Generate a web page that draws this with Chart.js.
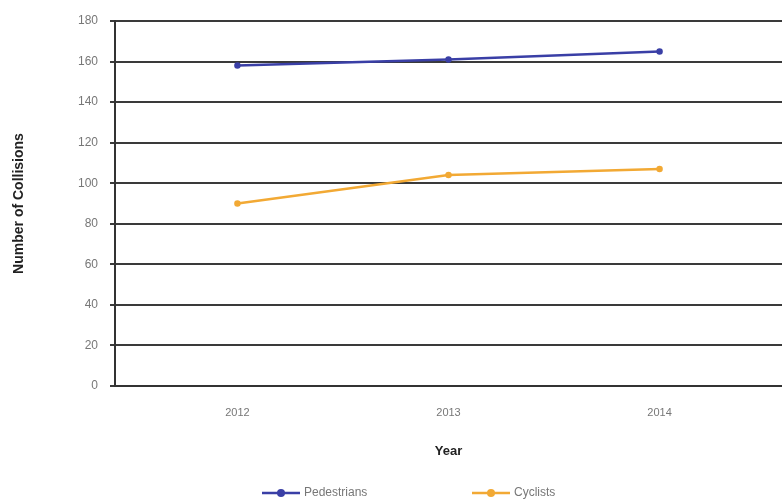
<!DOCTYPE html>
<html>
<head>
<meta charset="utf-8">
<script src="https://cdn.jsdelivr.net/npm/chart.js@4.4.1/dist/chart.umd.min.js"></script>
<style>
  html, body { margin: 0; padding: 0; background: #ffffff; }
  #wrap { width: 782px; height: 500px; position: relative; }
</style>
</head>
<body>
<div id="wrap"><canvas id="chart" width="782" height="500"></canvas></div>
<script>
// Collisions per year by road-user type
const years = [2012, 2013, 2014];
const yearLabels = ['2012', '2013', '2014'];
const pedestrians = [158, 161, 165];
const cyclists = [90, 104, 107];
const seriesNames = ['Pedestrians', 'Cyclists'];
const yTicks = [0, 20, 40, 60, 80, 100, 120, 140, 160, 180];

const BLUE = '#3a3fa6';
const ORANGE = '#f2a934';

const toPoints = vals => years.map((x, i) => ({ x: x, y: vals[i] }));

// Legend drawn below the axis title: short line with a marker, then the label
const bottomLegend = {
  id: 'bottomLegend',
  afterDraw(chart) {
    const ctx = chart.ctx;
    const y = 493;
    const items = [
      { ds: chart.data.datasets[0], x: 262 },
      { ds: chart.data.datasets[1], x: 472 }
    ];
    ctx.save();
    items.forEach(({ ds, x }) => {
      ctx.strokeStyle = ds.borderColor;
      ctx.lineWidth = 2.5;
      ctx.beginPath();
      ctx.moveTo(x, y);
      ctx.lineTo(x + 38, y);
      ctx.stroke();
      ctx.fillStyle = ds.borderColor;
      ctx.beginPath();
      ctx.arc(x + 19, y, 4, 0, Math.PI * 2);
      ctx.fill();
      ctx.fillStyle = '#777';
      ctx.font = '12px "Liberation Sans", Arial, sans-serif';
      ctx.textBaseline = 'middle';
      ctx.fillText(ds.label, x + 42, y);
    });
    ctx.restore();
  }
};

new Chart(document.getElementById('chart'), {
  type: 'line',
  data: {
    datasets: [
      {
        label: seriesNames[0],
        data: toPoints(pedestrians),
        borderColor: BLUE,
        backgroundColor: BLUE,
        borderWidth: 2.5,
        pointRadius: 2,
        pointHoverRadius: 2,
        tension: 0
      },
      {
        label: seriesNames[1],
        data: toPoints(cyclists),
        borderColor: ORANGE,
        backgroundColor: ORANGE,
        borderWidth: 2.5,
        pointRadius: 2,
        pointHoverRadius: 2,
        tension: 0
      }
    ]
  },
  options: {
    responsive: false,
    animation: false,
    events: [],
    layout: { autoPadding: false, padding: { top: 21, right: 0, bottom: 30, left: 0 } },
    plugins: {
      legend: { display: false },
      tooltip: { enabled: false }
    },
    scales: {
      x: {
        type: 'linear',
        min: 2011.42,
        max: 2014.58,
        afterBuildTicks: s => { s.ticks = years.map(v => ({ value: v })); },
        afterFit: s => { s.height = 84; },
        grid: { display: false, drawTicks: false },
        border: { display: true, color: '#333', width: 2 },
        ticks: {
          padding: 20,
          color: '#777',
          font: { size: 11, family: '"Liberation Sans", Arial, sans-serif' },
          callback: v => yearLabels[years.indexOf(v)] || ''
        },
        title: {
          display: true,
          text: 'Year',
          color: '#222',
          font: { size: 13, weight: 'bold', family: '"Liberation Sans", Arial, sans-serif' },
          padding: { top: 15, bottom: 11 }
        }
      },
      y: {
        min: 0,
        max: 180,
        afterBuildTicks: s => { s.ticks = yTicks.map(v => ({ value: v })); },
        afterFit: s => { s.width = 115; },
        grid: {
          color: '#3a3a3a',
          lineWidth: 2,
          drawTicks: true,
          tickLength: 5
        },
        border: { display: true, color: '#333', width: 2 },
        ticks: {
          padding: 12,
          color: '#777',
          font: { size: 12, family: '"Liberation Sans", Arial, sans-serif' }
        },
        title: {
          display: true,
          text: 'Number of Collisions',
          color: '#222',
          font: { size: 14, weight: 'bold', family: '"Liberation Sans", Arial, sans-serif' },
          padding: { top: 11, bottom: 0 }
        }
      }
    }
  },
  plugins: [bottomLegend]
});
</script>
</body>
</html>
